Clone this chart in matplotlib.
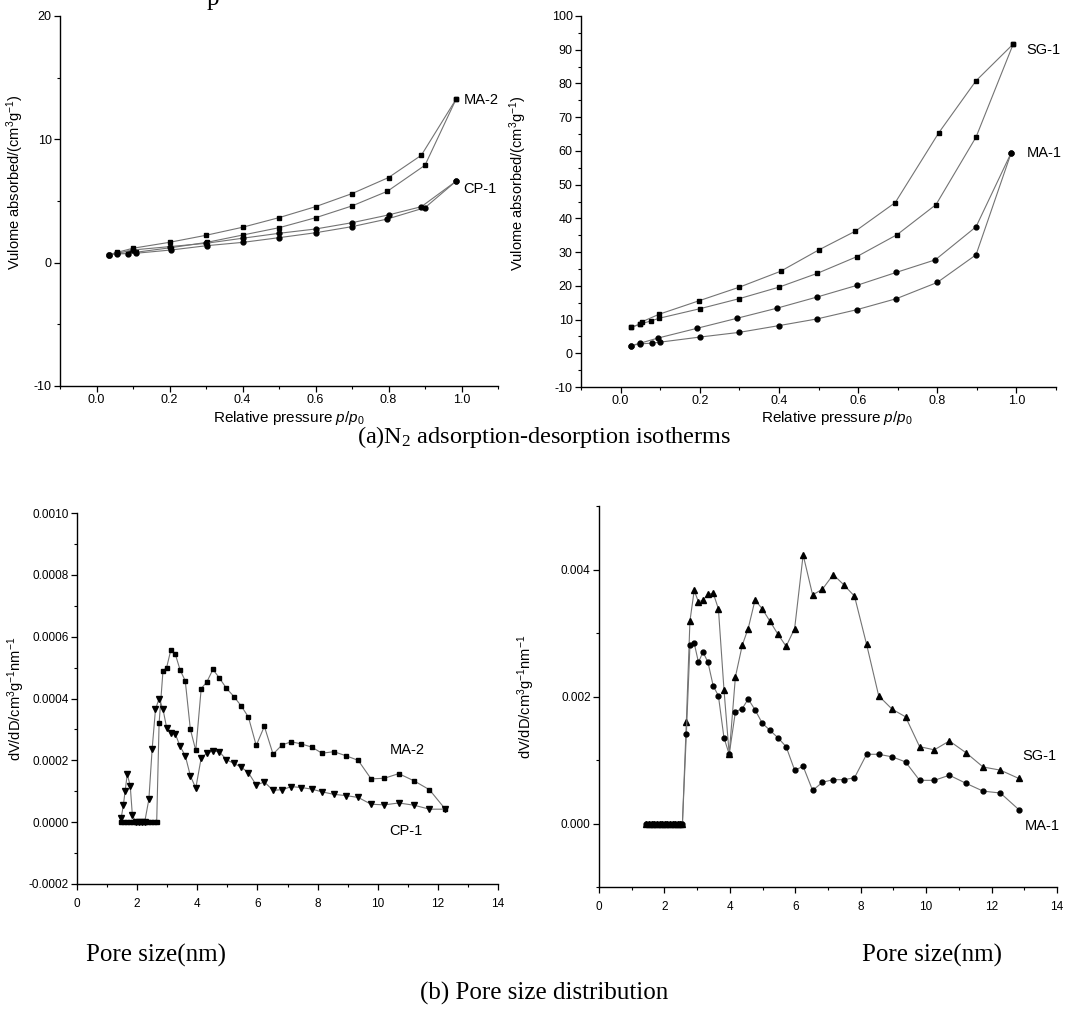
import matplotlib
matplotlib.use("Agg")
import matplotlib.pyplot as plt
from matplotlib.ticker import MultipleLocator, FormatStrFormatter

plt.rcParams['font.family'] = ['Liberation Sans', 'DejaVu Sans']
plt.rcParams['mathtext.fontset'] = 'custom'
plt.rcParams['mathtext.rm'] = 'Liberation Sans'
plt.rcParams['mathtext.it'] = 'Liberation Sans:italic'
plt.rcParams['axes.unicode_minus'] = False

# ---- (a) N2 isotherms, left: MA-2 / CP-1 ----
ma2_ads_x = [0.034, 0.057, 0.086, 0.107, 0.205, 0.303, 0.402, 0.501, 0.601, 0.70, 0.797, 0.90, 0.985]
ma2_ads_y = [0.65, 0.76, 0.76, 0.84, 1.22, 1.65, 2.25, 2.84, 3.65, 4.6, 5.79, 7.9, 13.25]
ma2_des_x = [0.985, 0.89, 0.80, 0.70, 0.60, 0.50, 0.40, 0.30, 0.20, 0.10, 0.057, 0.034]
ma2_des_y = [13.25, 8.71, 6.9, 5.6, 4.54, 3.65, 2.87, 2.22, 1.65, 1.17, 0.84, 0.65]
cp1_ads_x = [0.034, 0.057, 0.086, 0.107, 0.205, 0.303, 0.402, 0.501, 0.601, 0.70, 0.797, 0.90, 0.985]
cp1_ads_y = [0.65, 0.71, 0.73, 0.76, 1.03, 1.38, 1.65, 2.03, 2.43, 2.92, 3.54, 4.46, 6.6]
cp1_des_x = [0.985, 0.89, 0.80, 0.70, 0.60, 0.50, 0.40, 0.30, 0.20, 0.10, 0.057, 0.034]
cp1_des_y = [6.6, 4.54, 3.87, 3.24, 2.73, 2.38, 1.98, 1.57, 1.3, 1.03, 0.76, 0.65]

# ---- (a) right: SG-1 / MA-1 ----
sg1_ads_x = [0.027, 0.048, 0.077, 0.098, 0.20, 0.30, 0.40, 0.497, 0.596, 0.699, 0.797, 0.898, 0.992]
sg1_ads_y = [7.7, 8.6, 9.6, 10.4, 13.2, 16.2, 19.6, 23.7, 28.6, 35.2, 44.1, 64.1, 91.7]
sg1_des_x = [0.992, 0.898, 0.804, 0.694, 0.593, 0.50, 0.404, 0.30, 0.199, 0.098, 0.055, 0.048, 0.027]
sg1_des_y = [91.7, 80.8, 65.4, 44.7, 36.2, 30.6, 24.3, 19.6, 15.6, 11.6, 9.4, 8.6, 7.7]
ma1_ads_x = [0.027, 0.05, 0.08, 0.10, 0.20, 0.30, 0.40, 0.497, 0.596, 0.697, 0.80, 0.898, 0.987]
ma1_ads_y = [2.3, 2.8, 3.0, 3.3, 4.8, 6.2, 8.2, 10.2, 12.9, 16.2, 21.0, 29.2, 59.5]
ma1_des_x = [0.987, 0.898, 0.795, 0.697, 0.596, 0.497, 0.396, 0.295, 0.193, 0.094, 0.05, 0.027]
ma1_des_y = [59.5, 37.5, 27.7, 24.0, 20.1, 16.7, 13.4, 10.4, 7.4, 4.5, 3.0, 2.3]

# ---- (b) pore size distribution, left: MA-2 / CP-1 ----
grid_l = [2.73, 2.86, 2.98, 3.12, 3.27, 3.43, 3.6, 3.77, 3.95, 4.13, 4.32, 4.52, 4.73, 4.97,
          5.22, 5.46, 5.7, 5.96, 6.23, 6.52, 6.82, 7.13, 7.46, 7.8, 8.15, 8.54, 8.94, 9.35,
          9.78, 10.22, 10.7, 11.2, 11.72, 12.24]
ma2_psd_x = [1.45, 1.55, 1.65, 1.75, 1.85, 1.95, 2.05, 2.15, 2.25, 2.35, 2.45, 2.55, 2.65] + grid_l
ma2_psd_y = [0.0] * 13 + [
    0.00032, 0.00049, 0.0005, 0.000557, 0.000543, 0.000492, 0.000457, 0.0003, 0.000232,
    0.000432, 0.000454, 0.000494, 0.000467, 0.000433, 0.000406, 0.000376, 0.00034, 0.000248,
    0.00031, 0.00022, 0.00025, 0.00026, 0.000253, 0.000243, 0.000223, 0.000228, 0.000215,
    0.0002, 0.00014, 0.000142, 0.000157, 0.000134, 0.000105, 0.000043]
cp1_psd_x = [1.47, 1.54, 1.60, 1.67, 1.77, 1.84, 1.95, 2.05, 2.15, 2.25, 2.39, 2.50, 2.61] + grid_l
cp1_psd_y = [0.000014, 0.000054, 0.0001, 0.000155, 0.000118, 0.000024, 0.0, 0.0, 0.0, 0.0,
             0.000074, 0.000238, 0.000365,
             0.0004, 0.000365, 0.000306, 0.00029, 0.000285, 0.000245, 0.000215, 0.00015, 0.00011,
             0.000208, 0.000223, 0.00023, 0.000228, 0.000202, 0.00019, 0.000178, 0.00016, 0.00012,
             0.00013, 0.000103, 0.000105, 0.000115, 0.000112, 0.000107, 0.000098, 0.00009,
             0.000086, 0.00008, 0.000058, 0.000056, 0.000062, 0.000055, 0.000042, 0.000042]

# ---- (b) right: SG-1 / MA-1 ----
zero_r = [1.45, 1.53, 1.61, 1.69, 1.77, 1.85, 1.93, 2.01, 2.09, 2.17, 2.25, 2.33, 2.41, 2.49, 2.55]
grid_r = [2.67, 2.78, 2.91, 3.04, 3.18, 3.33, 3.49, 3.65, 3.82, 3.98, 4.17, 4.38, 4.56, 4.77,
          4.99, 5.22, 5.47, 5.72, 5.98, 6.24, 6.53, 6.83, 7.16, 7.48, 7.81, 8.18, 8.55, 8.96,
          9.37, 9.8, 10.25, 10.71, 11.23, 11.74, 12.27, 12.83]
sg1_psd_y = [0.0016, 0.00319, 0.00367, 0.00349, 0.00352, 0.00361, 0.00363, 0.00338, 0.00211,
             0.00109, 0.00231, 0.00281, 0.00307, 0.00352, 0.00338, 0.00319, 0.00298, 0.00279,
             0.00307, 0.00423, 0.0036, 0.00369, 0.00392, 0.00376, 0.00358, 0.00282, 0.00201,
             0.0018, 0.00168, 0.00121, 0.00116, 0.0013, 0.00111, 0.00089, 0.00084, 0.00071]
ma1_psd_y = [0.00141, 0.00281, 0.00284, 0.00254, 0.0027, 0.00254, 0.00217, 0.00201, 0.00135,
             0.00109, 0.00176, 0.00181, 0.00196, 0.00179, 0.00158, 0.00147, 0.00135, 0.00121,
             0.00084, 0.0009, 0.00052, 0.00065, 0.00069, 0.00069, 0.00072, 0.00109, 0.00109,
             0.00105, 0.00097, 0.00068, 0.00068, 0.00076, 0.00063, 0.00051, 0.00048, 0.00022]

W, H = 1088, 1010
fig = plt.figure(figsize=(W / 100, H / 100), dpi=100)


def box(l, t, r, b):
    return [l / W, 1 - b / H, (r - l) / W, (b - t) / H]


ax1 = fig.add_axes(box(60, 16, 498, 386))
ax2 = fig.add_axes(box(581, 16, 1056, 387))
ax3 = fig.add_axes(box(77, 513, 498, 884))
ax4 = fig.add_axes(box(599, 506, 1057, 887))

line_kw = dict(color='0.45', lw=0.8, markerfacecolor='black', markeredgecolor='black')
vol_label = 'Vulome absorbed/(cm$^\\mathregular{3}$g$^\\mathregular{-1}$)'
psd_label = 'dV/dD/cm$^\\mathregular{3}$g$^\\mathregular{-1}$nm$^\\mathregular{-1}$'
p_label = 'Relative pressure $p/p_0$'


def style(ax, size, xpad=2):
    for s in ('top', 'right'):
        ax.spines[s].set_visible(False)
    for s in ('left', 'bottom'):
        ax.spines[s].set_linewidth(1.0)
    ax.tick_params(which='major', direction='out', length=4, width=0.9, labelsize=size, pad=2)
    ax.tick_params(which='minor', direction='out', length=2.5, width=0.8)
    ax.tick_params(axis='x', which='major', pad=xpad)


# top left
ax1.plot(ma2_ads_x, ma2_ads_y, marker='s', ms=3.5, **line_kw)
ax1.plot(ma2_des_x, ma2_des_y, marker='s', ms=3.5, **line_kw)
ax1.plot(cp1_ads_x, cp1_ads_y, marker='o', ms=3.5, **line_kw)
ax1.plot(cp1_des_x, cp1_des_y, marker='o', ms=3.5, **line_kw)
ax1.set_xlim(-0.1, 1.1)
ax1.set_ylim(-10, 20)
ax1.xaxis.set_major_locator(MultipleLocator(0.2))
ax1.xaxis.set_minor_locator(MultipleLocator(0.1))
ax1.xaxis.set_major_formatter(FormatStrFormatter('%.1f'))
ax1.yaxis.set_major_locator(MultipleLocator(10))
ax1.yaxis.set_minor_locator(MultipleLocator(5))
ax1.text(1.005, 13.2, 'MA-2', fontsize=10.5, va='center')
ax1.text(1.005, 6.0, 'CP-1', fontsize=10.5, va='center')
ax1.set_ylabel(vol_label, fontsize=10.5)
ax1.yaxis.set_label_coords(-0.078, 0.55)
ax1.set_xlabel(p_label, fontsize=11)
ax1.xaxis.set_label_coords(0.523, -0.062)
style(ax1, 9)

# top right
ax2.plot(sg1_ads_x, sg1_ads_y, marker='s', ms=3.5, **line_kw)
ax2.plot(sg1_des_x, sg1_des_y, marker='s', ms=3.5, **line_kw)
ax2.plot(ma1_ads_x, ma1_ads_y, marker='o', ms=3.5, **line_kw)
ax2.plot(ma1_des_x, ma1_des_y, marker='o', ms=3.5, **line_kw)
ax2.set_xlim(-0.1, 1.1)
ax2.set_ylim(-10, 100)
ax2.xaxis.set_major_locator(MultipleLocator(0.2))
ax2.xaxis.set_minor_locator(MultipleLocator(0.1))
ax2.xaxis.set_major_formatter(FormatStrFormatter('%.1f'))
ax2.yaxis.set_major_locator(MultipleLocator(10))
ax2.yaxis.set_minor_locator(MultipleLocator(5))
ax2.text(1.025, 89.9, 'SG-1', fontsize=10.5, va='center')
ax2.text(1.025, 59.5, 'MA-1', fontsize=10.5, va='center')
ax2.set_ylabel(vol_label, fontsize=10.5)
ax2.yaxis.set_label_coords(-0.109, 0.55)
ax2.set_xlabel(p_label, fontsize=11)
ax2.xaxis.set_label_coords(0.539, -0.060)
style(ax2, 9)

# bottom left
ax3.plot(ma2_psd_x, ma2_psd_y, marker='s', ms=3.2, **line_kw)
ax3.plot(cp1_psd_x, cp1_psd_y, marker='v', ms=3.8, **line_kw)
ax3.set_xlim(0, 14)
ax3.set_ylim(-0.0002, 0.0010)
ax3.xaxis.set_major_locator(MultipleLocator(2))
ax3.xaxis.set_minor_locator(MultipleLocator(1))
ax3.yaxis.set_major_locator(MultipleLocator(0.0002))
ax3.yaxis.set_minor_locator(MultipleLocator(0.0001))
ax3.yaxis.set_major_formatter(FormatStrFormatter('%.4f'))
ax3.text(10.4, 0.000232, 'MA-2', fontsize=10.5, va='center')
ax3.text(10.4, -0.000027, 'CP-1', fontsize=10.5, va='center')
ax3.set_ylabel(psd_label, fontsize=10.5)
ax3.yaxis.set_label_coords(-0.119, 0.5)
style(ax3, 8.5, xpad=6)

# bottom right
ax4.plot(zero_r + grid_r, [0.0] * len(zero_r) + sg1_psd_y, marker='^', ms=3.8, **line_kw)
ax4.plot(zero_r + grid_r, [0.0] * len(zero_r) + ma1_psd_y, marker='o', ms=3.5, **line_kw)
ax4.set_xlim(0, 14)
ax4.set_ylim(-0.001, 0.005)
ax4.xaxis.set_major_locator(MultipleLocator(2))
ax4.xaxis.set_minor_locator(MultipleLocator(1))
ax4.yaxis.set_major_locator(MultipleLocator(0.002))
ax4.yaxis.set_minor_locator(MultipleLocator(0.001))
ax4.yaxis.set_major_formatter(FormatStrFormatter('%.3f'))
ax4.text(12.95, 0.00106, 'SG-1', fontsize=10.5, va='center')
ax4.text(13.0, -0.00004, 'MA-1', fontsize=10.5, va='center')
ax4.set_ylabel(psd_label, fontsize=10.5)
ax4.yaxis.set_label_coords(-0.135, 0.5)
style(ax4, 8.5, xpad=6)

serif = ['Liberation Serif', 'DejaVu Serif']
fig.text(213 / W, 1 - 5 / H, 'p', family=serif, fontsize=18, ha='center', va='baseline')
fig.text(0.5, 1 - 437 / H, '(a)N$_\\mathregular{2}$ adsorption-desorption isotherms',
         family=serif, fontsize=17.5, ha='center', va='center')
fig.text(156 / W, 1 - 955 / H, 'Pore size(nm)', family=serif, fontsize=18, ha='center', va='center')
fig.text(932 / W, 1 - 955 / H, 'Pore size(nm)', family=serif, fontsize=18, ha='center', va='center')
fig.text(0.5, 1 - 993 / H, '(b) Pore size distribution', family=serif, fontsize=18,
         ha='center', va='center')

fig.savefig('out.png', dpi=100)
